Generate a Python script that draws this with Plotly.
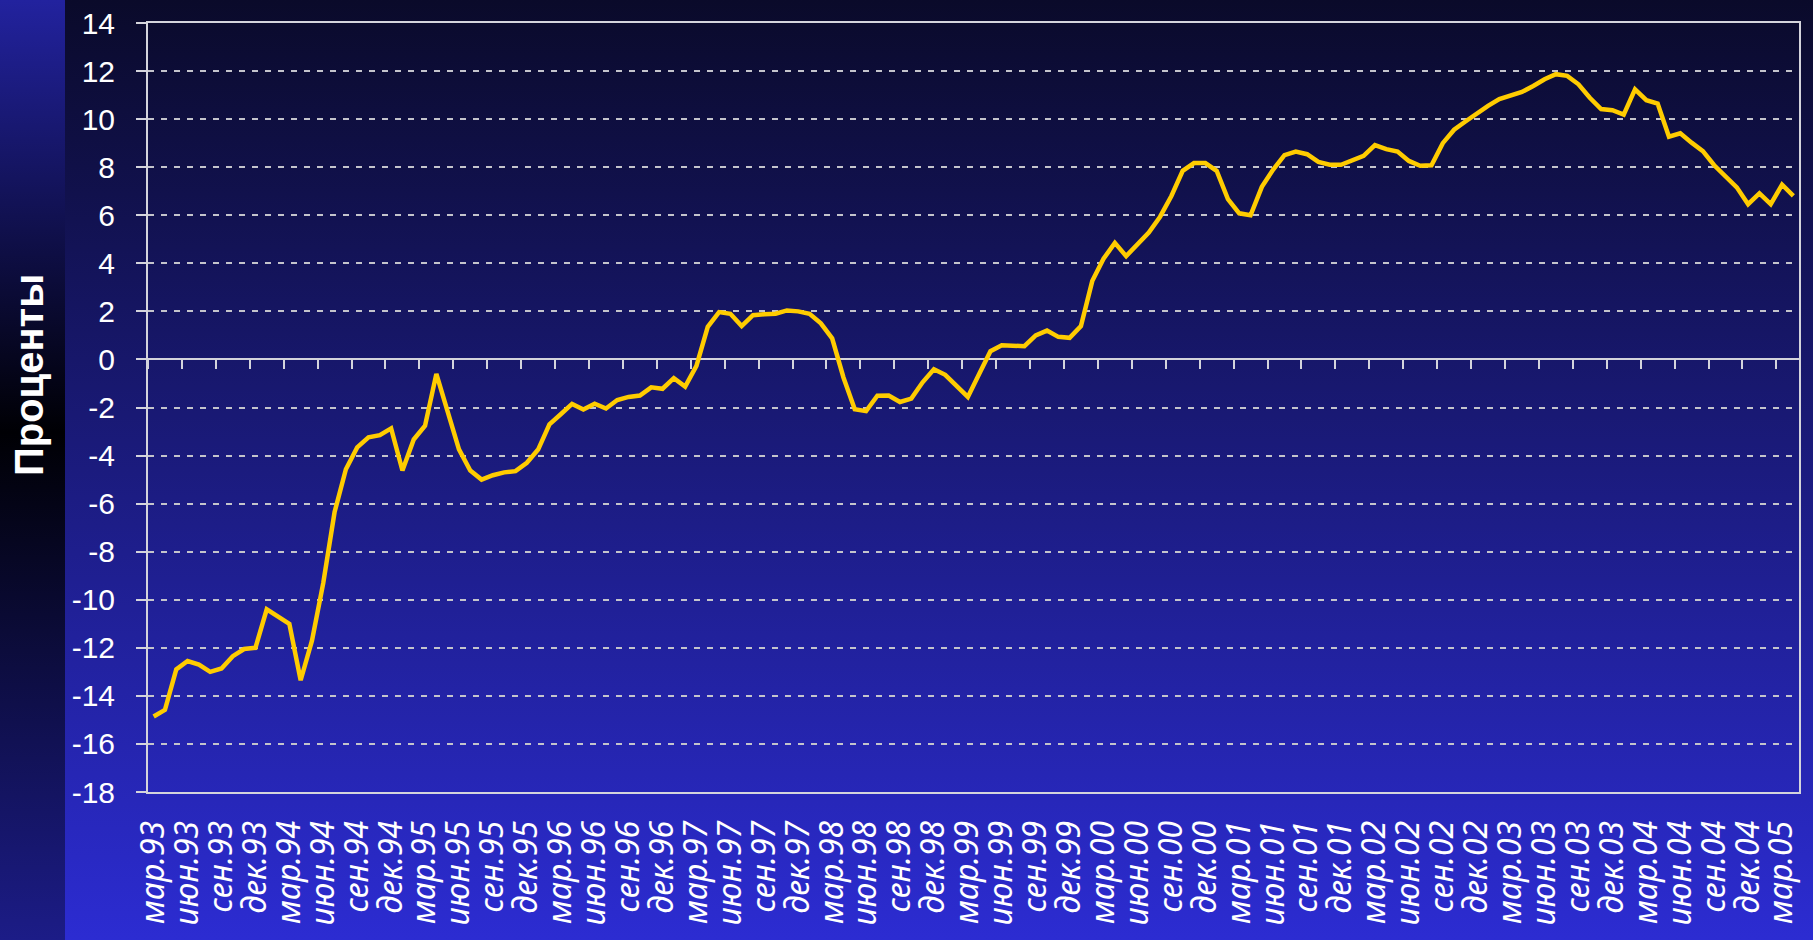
import base64
import plotly.graph_objects as go

# ---------------- data ----------------
month_abbr = ["янв", "фев", "мар", "апр", "май", "июн",
              "июл", "авг", "сен", "окт", "ноя", "дек"]
first_year, first_month, n_months = 1993, 3, 146   # мар.93 ... апр.05

months = []
for k in range(n_months):
    m = (first_month - 1 + k) % 12
    y = first_year + (first_month - 1 + k) // 12
    months.append(f"{month_abbr[m]}.{y % 100:02d}")

tick_labels = [
    "мар.93", "июн.93", "сен.93", "дек.93", "мар.94", "июн.94", "сен.94", "дек.94",
    "мар.95", "июн.95", "сен.95", "дек.95", "мар.96", "июн.96", "сен.96", "дек.96",
    "мар.97", "июн.97", "сен.97", "дек.97", "мар.98", "июн.98", "сен.98", "дек.98",
    "мар.99", "июн.99", "сен.99", "дек.99", "мар.00", "июн.00", "сен.00", "дек.00",
    "мар.01", "июн.01", "сен.01", "дек.01", "мар.02", "июн.02", "сен.02", "дек.02",
    "мар.03", "июн.03", "сен.03", "дек.03", "мар.04", "июн.04", "сен.04", "дек.04",
    "мар.05",
]

values = [
    -14.86, -14.58, -12.9, -12.55, -12.7, -13.0, -12.86, -12.35, -12.05, -12.0,
    -10.4, -10.7, -11.0, -13.35, -11.7, -9.3, -6.35, -4.57, -3.66, -3.24,
    -3.15, -2.87, -4.62, -3.33, -2.76, -0.6, -2.17, -3.74, -4.62, -5.0,
    -4.82, -4.7, -4.65, -4.3, -3.75, -2.7, -2.28, -1.85, -2.08, -1.84,
    -2.04, -1.69, -1.56, -1.5, -1.16, -1.22, -0.78, -1.13, -0.27, 1.36,
    1.97, 1.9, 1.39, 1.84, 1.88, 1.9, 2.04, 2.0, 1.9, 1.5,
    0.88, -0.75, -2.07, -2.15, -1.51, -1.5, -1.77, -1.63, -0.95, -0.41,
    -0.64, -1.12, -1.56, -0.61, 0.34, 0.59, 0.56, 0.55, 1.0, 1.2,
    0.94, 0.9, 1.39, 3.26, 4.19, 4.85, 4.3, 4.79, 5.28, 5.94,
    6.8, 7.85, 8.17, 8.17, 7.85, 6.67, 6.08, 6.0, 7.18, 7.9,
    8.5, 8.65, 8.54, 8.22, 8.1, 8.1, 8.3, 8.47, 8.92, 8.75,
    8.65, 8.26, 8.06, 8.08, 9.0, 9.56, 9.9, 10.23, 10.55, 10.83,
    10.99, 11.13, 11.38, 11.66, 11.87, 11.8, 11.45, 10.89, 10.42, 10.37,
    10.19, 11.24, 10.79, 10.65, 9.27, 9.41, 9.02, 8.67, 8.08, 7.65,
    7.16, 6.46, 6.91, 6.46, 7.27, 6.81,
]

y_ticks = [-18, -16, -14, -12, -10, -8, -6, -4, -2, 0, 2, 4, 6, 8, 10, 12, 14]
y_tick_text = ["-18", "-16", "-14", "-12", "-10", "-8", "-6", "-4", "-2",
               "0", "2", "4", "6", "8", "10", "12", "14"]
y_title = "Проценты"

# ---------------- geometry / style ----------------
W, H = 1813, 940
L, R, T, B = 148, 14, 23, 148
PW, PH = W - L - R, H - T - B
Y_MIN, Y_MAX = -18, 14
AX = "#d4d4dc"
GRID = "#c4c4cc"
LINE = "#ffcc00"

svg = f'''<svg xmlns="http://www.w3.org/2000/svg" width="{W}" height="{H}" viewBox="0 0 {W} {H}" preserveAspectRatio="none">
<defs>
<linearGradient id="m" x1="0" y1="0" x2="0" y2="1">
<stop offset="0" stop-color="rgb(10,10,42)"/>
<stop offset="1" stop-color="rgb(44,44,210)"/>
</linearGradient>
<linearGradient id="s" x1="0" y1="0" x2="0" y2="1">
<stop offset="0" stop-color="rgb(34,34,158)"/>
<stop offset="0.46" stop-color="rgb(0,0,4)"/>
<stop offset="1" stop-color="rgb(28,28,135)"/>
</linearGradient>
</defs>
<rect x="0" y="0" width="{W}" height="{H}" fill="url(#m)"/>
<rect x="0" y="0" width="65" height="{H}" fill="url(#s)"/>
</svg>'''
bg_src = "data:image/svg+xml;base64," + base64.b64encode(svg.encode("utf-8")).decode("ascii")

fig = go.Figure()
fig.add_trace(go.Scatter(
    x=months, y=values, mode="lines",
    line=dict(color=LINE, width=4.5),
    showlegend=False, hoverinfo="x+y",
))
# empty trace so the zero-line tick axis exists
fig.add_trace(go.Scatter(x=[None], y=[None], xaxis="x2", yaxis="y",
                         showlegend=False, hoverinfo="skip"))

zero_pos = (0 - Y_MIN) / (Y_MAX - Y_MIN)

fig.update_layout(
    width=W, height=H,
    margin=dict(l=L, r=R, t=T, b=B, pad=0, autoexpand=False),
    paper_bgcolor="#10104a",
    plot_bgcolor="rgba(0,0,0,0)",
    showlegend=False,
    images=[dict(source=bg_src, xref="paper", yref="paper",
                 x=-L / PW, y=1 + T / PH, sizex=W / PW, sizey=H / PH,
                 xanchor="left", yanchor="top", sizing="stretch", layer="below")],
    xaxis=dict(
        type="category", categoryorder="array", categoryarray=months,
        range=[-0.5, n_months - 0.5], automargin=False,
        tickmode="array", tickvals=tick_labels, ticktext=tick_labels,
        tickangle=-90, ticks="", ticklabelstandoff=14,
        tickfont=dict(family="Noto Sans", size=32, color="white", style="italic"),
        showline=True, linecolor=AX, linewidth=2, mirror=True,
        showgrid=False, zeroline=False,
    ),
    xaxis2=dict(
        overlaying="x", anchor="free", position=zero_pos,
        range=[-0.5, n_months - 0.5], automargin=False,
        tickmode="linear", tick0=-0.5, dtick=3,
        ticks="outside", ticklen=9, tickwidth=2, tickcolor=AX,
        showticklabels=False, showline=True, linecolor=AX, linewidth=2,
        showgrid=False, zeroline=False, layer="below traces",
    ),
    yaxis=dict(
        range=[Y_MIN, Y_MAX], automargin=False,
        tickmode="array", tickvals=y_ticks, ticktext=y_tick_text,
        ticks="outside", ticklen=10, tickwidth=2, tickcolor=AX,
        ticklabelstandoff=15,
        tickfont=dict(family="Liberation Sans", size=30, color="white"),
        showline=True, linecolor=AX, linewidth=2, mirror=True,
        showgrid=True, gridcolor=GRID, gridwidth=1.8, griddash="6px,7px",
        zeroline=False,
    ),
    annotations=[dict(
        text=y_title, textangle=-90, showarrow=False,
        xref="paper", yref="paper",
        x=(29 - L) / PW, y=(H - B - 375) / PH,
        xanchor="center", yanchor="middle",
        font=dict(family="Liberation Sans", size=40, color="white", weight="bold"),
    )],
)

fig.write_html(
    "out.html",
    config={"displayModeBar": False},
    post_script="document.body.style.margin='0';document.body.style.padding='0';"
                "document.documentElement.style.overflow='hidden';",
)
